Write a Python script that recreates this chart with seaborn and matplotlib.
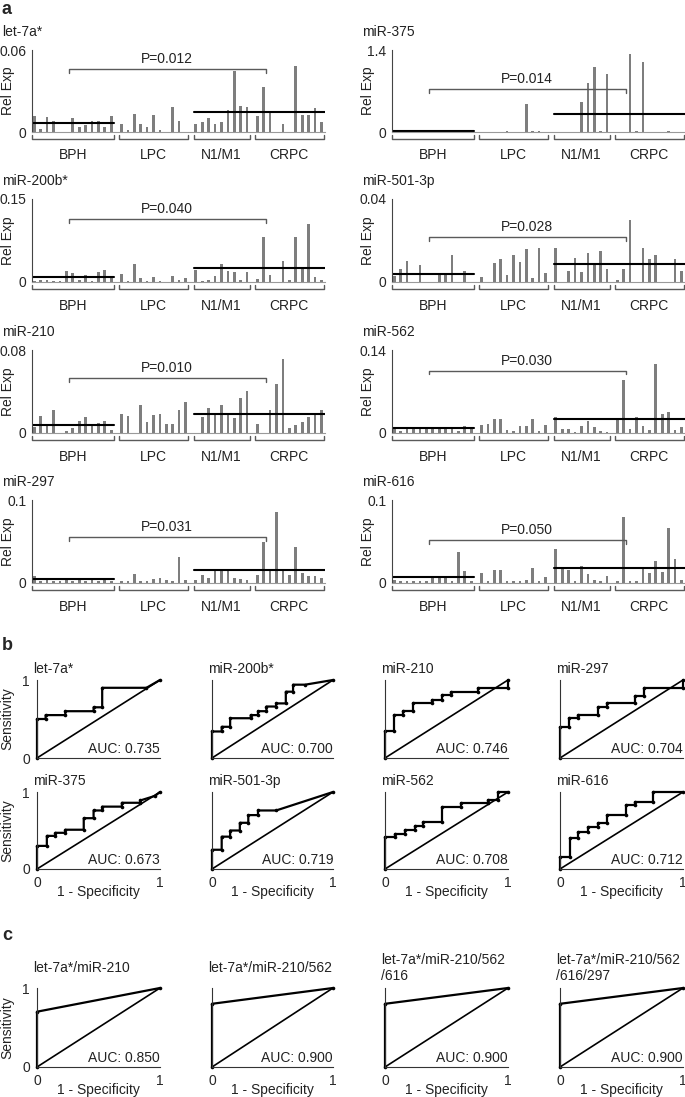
import matplotlib
matplotlib.use("Agg")
import matplotlib.pyplot as plt
import matplotlib.transforms as mtransforms
import numpy as np
import pandas as pd
import seaborn as sns

W, H = 685, 1097

group_names = ["BPH", "LPC", "N1/M1", "CRPC"]
group_sizes = [13, 11, 9, 11]

# panel a: relative expression per sample, groups in order BPH | LPC | N1/M1 | CRPC
let7a_exp = [0.0115, 0.0024, 0.011, 0.008, 0, 0, 0.010, 0.0036, 0.005, 0.0084, 0.0077, 0.004, 0.0115,
             0.006, 0.0017, 0.013, 0.0055, 0.004, 0.0125, 0.0017, 0, 0.018, 0.008, 0,
             0.0062, 0.0074, 0.010, 0.0055, 0.0074, 0.016, 0.045, 0.019, 0.018,
             0.0115, 0.0326, 0.015, 0, 0.0055, 0, 0.048, 0.0127, 0.0127, 0.0175, 0.0074]
mir375_exp = [0.02, 0.015, 0.02, 0.015, 0.02, 0.015, 0.02, 0.015, 0.02, 0.015, 0.02, 0.02, 0.02,
              0, 0.005, 0.004, 0.006, 0.01, 0.005, 0.005, 0.476, 0.02, 0.01, 0.004,
              0.006, 0.006, 0.005, 0, 0.515, 0.84, 1.11, 0.01, 0.99,
              0.005, 0, 1.33, 0.02, 1.2, 0, 0.005, 0.005, 0.01, 0.005, 0.005]
mir200b_exp = [0.002, 0.004, 0.003, 0.002, 0.002, 0.020, 0.016, 0.003, 0.012, 0.002, 0.018, 0.022, 0.010,
               0.015, 0.0024, 0.032, 0.007, 0.001, 0.009, 0.002, 0, 0.011, 0.004, 0.008,
               0.021, 0.002, 0.003, 0.011, 0.033, 0.020, 0.018, 0.004, 0.018,
               0.006, 0.081, 0.012, 0, 0.038, 0.003, 0.082, 0.024, 0.105, 0.009, 0.004]
mir501_exp = [0.003, 0.0065, 0.010, 0, 0.008, 0, 0, 0.004, 0.004, 0.013, 0, 0.0053, 0,
              0.0024, 0, 0.009, 0.0113, 0.0032, 0.013, 0.0094, 0.0157, 0.002, 0.0165, 0.0044,
              0.0165, 0, 0.0053, 0.0117, 0.0049, 0.0138, 0.0086, 0.015, 0.0065,
              0.0011, 0.0065, 0.030, 0, 0.0165, 0.0113, 0.013, 0, 0, 0.011, 0.0053]
mir210_exp = [0.0058, 0.016, 0.009, 0.022, 0, 0.002, 0.005, 0.012, 0.0155, 0.0074, 0.0097, 0.0116, 0.003,
              0.0187, 0.016, 0, 0.0268, 0.011, 0.017, 0.018, 0.009, 0.0084, 0.0226, 0.030,
              0, 0.015, 0.024, 0.018, 0.027, 0.018, 0.014, 0.034, 0.040,
              0.009, 0, 0.0226, 0.047, 0.071, 0.005, 0.008, 0.011, 0.0155, 0.017, 0.022]
mir562_exp = [0.0095, 0.004, 0.007, 0.007, 0.0095, 0.008, 0.007, 0.007, 0.006, 0.006, 0.003, 0.011, 0.008,
              0.013, 0.015, 0.024, 0.0235, 0.0056, 0.003, 0.0118, 0.0118, 0.0235, 0.003, 0.014,
              0.0274, 0.0067, 0.0067, 0.002, 0.0118, 0.0196, 0.0095, 0.003, 0.001,
              0.0224, 0.0896, 0.0067, 0.0269, 0.0118, 0.0056, 0.1165, 0.032, 0.0347, 0.0056, 0.0095]
mir297_exp = [0.008, 0.003, 0.004, 0.003, 0.003, 0.004, 0.003, 0.004, 0.003, 0.004, 0.003, 0.004, 0.003,
              0.002, 0.003, 0.0105, 0.002, 0.003, 0.005, 0.006, 0.004, 0.003, 0.031, 0.004,
              0.004, 0.010, 0.006, 0.014, 0.016, 0.015, 0.006, 0.005, 0.004,
              0.010, 0.049, 0.015, 0.085, 0.014, 0.010, 0.043, 0.012, 0.008, 0.009, 0.006]
mir616_exp = [0.004, 0.002, 0.002, 0.002, 0.002, 0.002, 0.006, 0.007, 0.007, 0.002, 0.037, 0.014, 0.002,
              0.0125, 0.003, 0.016, 0.016, 0.003, 0.002, 0.003, 0.004, 0.018, 0.002, 0.0077,
              0.041, 0.018, 0.016, 0.003, 0.021, 0.011, 0.004, 0.002, 0.0085,
              0.002, 0.079, 0.003, 0.002, 0.018, 0.0125, 0.027, 0.0138, 0.066, 0.029, 0.004]

# group averages drawn as black lines (BPH, and N1/M1 + CRPC together)
bph_means = {"let-7a*": 0.0067, "miR-375": 0.02, "miR-200b*": 0.0085, "miR-501-3p": 0.0039,
             "miR-210": 0.0074, "miR-562": 0.0084, "miR-297": 0.005, "miR-616": 0.0073}
met_means = {"let-7a*": 0.0146, "miR-375": 0.31, "miR-200b*": 0.0255, "miR-501-3p": 0.0089,
             "miR-210": 0.018, "miR-562": 0.0235, "miR-297": 0.0158, "miR-616": 0.0186}
y_max = {"let-7a*": 0.06, "miR-375": 1.4, "miR-200b*": 0.15, "miR-501-3p": 0.04,
         "miR-210": 0.08, "miR-562": 0.14, "miR-297": 0.1, "miR-616": 0.1}
y_max_label = {"let-7a*": "0.06", "miR-375": "1.4", "miR-200b*": "0.15", "miR-501-3p": "0.04",
               "miR-210": "0.08", "miR-562": "0.14", "miR-297": "0.1", "miR-616": "0.1"}
p_values = {"let-7a*": "P=0.012", "miR-375": "P=0.014", "miR-200b*": "P=0.040", "miR-501-3p": "P=0.028",
            "miR-210": "P=0.010", "miR-562": "P=0.030", "miR-297": "P=0.031", "miR-616": "P=0.050"}
expr = {"let-7a*": let7a_exp, "miR-375": mir375_exp, "miR-200b*": mir200b_exp, "miR-501-3p": mir501_exp,
        "miR-210": mir210_exp, "miR-562": mir562_exp, "miR-297": mir297_exp, "miR-616": mir616_exp}

# panel b: ROC curves (1 - specificity, sensitivity)
let7a_fpr = [0, 0, 0.07, 0.07, 0.23, 0.23, 0.46, 0.46, 0.53, 0.53, 0.89, 1]
let7a_tpr = [0, 0.5, 0.5, 0.55, 0.55, 0.6, 0.6, 0.65, 0.65, 0.9, 0.9, 1]
mir200b_fpr = [0, 0, 0.08, 0.08, 0.15, 0.15, 0.32, 0.32, 0.38, 0.38, 0.45, 0.45, 0.53, 0.53, 0.61, 0.61, 0.67, 0.67, 0.77, 1]
mir200b_tpr = [0, 0.34, 0.34, 0.40, 0.40, 0.51, 0.51, 0.55, 0.55, 0.60, 0.60, 0.66, 0.66, 0.70, 0.70, 0.85, 0.85, 0.94, 0.94, 1]
mir210_fpr = [0, 0, 0.076, 0.076, 0.15, 0.15, 0.23, 0.23, 0.38, 0.38, 0.46, 0.46, 0.54, 0.54, 0.76, 0.76, 1, 1]
mir210_tpr = [0, 0.35, 0.35, 0.55, 0.55, 0.60, 0.60, 0.70, 0.70, 0.75, 0.75, 0.81, 0.81, 0.85, 0.85, 0.90, 0.90, 1]
mir297_fpr = [0, 0, 0.076, 0.076, 0.15, 0.15, 0.305, 0.305, 0.38, 0.38, 0.61, 0.61, 0.68, 0.68, 1, 1]
mir297_tpr = [0, 0.40, 0.40, 0.51, 0.51, 0.55, 0.55, 0.65, 0.65, 0.70, 0.70, 0.80, 0.80, 0.90, 0.90, 1]
mir375_fpr = [0, 0, 0.08, 0.08, 0.15, 0.15, 0.23, 0.23, 0.38, 0.38, 0.46, 0.46, 0.53, 0.53, 0.69, 0.69, 0.84, 0.84, 0.96, 1]
mir375_tpr = [0, 0.30, 0.30, 0.43, 0.43, 0.47, 0.47, 0.51, 0.51, 0.66, 0.66, 0.76, 0.76, 0.81, 0.81, 0.86, 0.86, 0.89, 0.95, 1]
mir501_fpr = [0, 0, 0.08, 0.08, 0.15, 0.15, 0.23, 0.23, 0.30, 0.30, 0.38, 0.38, 0.53, 1]
mir501_tpr = [0, 0.25, 0.25, 0.42, 0.42, 0.50, 0.50, 0.60, 0.60, 0.70, 0.70, 0.76, 0.76, 1]
mir562_fpr = [0, 0, 0.08, 0.08, 0.16, 0.16, 0.24, 0.24, 0.31, 0.31, 0.46, 0.46, 0.62, 0.62, 0.84, 0.84, 0.92, 0.92, 1]
mir562_tpr = [0, 0.42, 0.42, 0.46, 0.46, 0.51, 0.51, 0.56, 0.56, 0.61, 0.61, 0.81, 0.81, 0.86, 0.86, 0.90, 0.90, 1, 1]
mir616_fpr = [0, 0, 0.08, 0.08, 0.15, 0.15, 0.23, 0.23, 0.31, 0.31, 0.38, 0.38, 0.54, 0.54, 0.61, 0.61, 0.76, 0.76, 1]
mir616_tpr = [0, 0.16, 0.16, 0.40, 0.40, 0.48, 0.48, 0.55, 0.55, 0.60, 0.60, 0.70, 0.70, 0.83, 0.83, 0.87, 0.87, 1, 1]
roc_b = [("let-7a*", let7a_fpr, let7a_tpr, "AUC: 0.735"),
         ("miR-200b*", mir200b_fpr, mir200b_tpr, "AUC: 0.700"),
         ("miR-210", mir210_fpr, mir210_tpr, "AUC: 0.746"),
         ("miR-297", mir297_fpr, mir297_tpr, "AUC: 0.704"),
         ("miR-375", mir375_fpr, mir375_tpr, "AUC: 0.673"),
         ("miR-501-3p", mir501_fpr, mir501_tpr, "AUC: 0.719"),
         ("miR-562", mir562_fpr, mir562_tpr, "AUC: 0.708"),
         ("miR-616", mir616_fpr, mir616_tpr, "AUC: 0.712")]

# panel c: combined classifiers
combo_names = ["let-7a*/miR-210", "let-7a*/miR-210/562", "let-7a*/miR-210/562\n/616", "let-7a*/miR-210/562\n/616/297"]
combo_fpr = [[0, 0, 1], [0, 0, 1], [0, 0, 1], [0, 0, 1]]
combo_tpr = [[0, 0.7, 1], [0, 0.8, 1], [0, 0.8, 1], [0, 0.8, 1]]
combo_auc = ["AUC: 0.850", "AUC: 0.900", "AUC: 0.900", "AUC: 0.900"]

FS = 10
BAR_GRAY = "#7e7e7e"
LINE_GRAY = "#5a5a5a"


def rect(left, top, right, bottom):
    return [left / W, 1 - bottom / H, (right - left) / W, (bottom - top) / H]


def ftext(fig, x, y, s, **kw):
    fig.text(x / W, 1 - y / H, s, fontsize=kw.pop("fontsize", FS), **kw)


def sample_positions(sizes, gap=0.6):
    pos = []
    start = 0.0
    for k, n in enumerate(sizes):
        pos.extend(start + np.arange(n))
        start += n + gap
    return np.array(pos)


def draw_expression(fig, name, left, top, right, bottom, bracket_y):
    ax = fig.add_axes(rect(left, top, right, bottom))
    pos = sample_positions(group_sizes)
    df = pd.DataFrame({"pos": pos, "val": expr[name]})
    sns.barplot(data=df, x="pos", y="val", native_scale=True, width=0.42, color=BAR_GRAY,
                saturation=1, errorbar=None, linewidth=0, ax=ax)
    xmin, xmax = -0.36, pos[-1] + 0.56
    ax.set_xlim(xmin, xmax)
    ax.set_ylim(0, y_max[name])
    ax.set_xticks([])
    ax.set_yticks([0, y_max[name]])
    ax.set_yticklabels(["0", y_max_label[name]])
    ax.set_xlabel("")
    ax.set_ylabel("")
    for s in ["top", "right"]:
        ax.spines[s].set_visible(False)
    ax.spines["left"].set_color("#444444")
    ax.spines["left"].set_linewidth(0.8)
    ax.spines["bottom"].set_color("#9a9a9a")
    ax.spines["bottom"].set_linewidth(0.8)
    ax.tick_params(axis="y", length=3, width=0.8, color="#444444", labelsize=FS, pad=1)

    trans = mtransforms.blended_transform_factory(ax.transData, ax.transAxes)
    # group brackets and labels under the axis
    idx = np.cumsum([0] + group_sizes)
    for k, gname in enumerate(group_names):
        g0 = pos[idx[k]] - 0.35 if k > 0 else xmin
        g1 = pos[idx[k + 1] - 1] + 0.4
        ax.plot([g0, g0, g1, g1], [-0.04, -0.085, -0.085, -0.04], color=LINE_GRAY, lw=1.0,
                transform=trans, clip_on=False)
        ax.text((pos[idx[k]] + pos[idx[k + 1] - 1]) / 2, -0.2, gname, ha="center", va="top",
                fontsize=FS, transform=trans, color="#222222")

    # mean lines
    ax.plot([xmin, pos[idx[1] - 1] + 0.4], [bph_means[name]] * 2, color="black", lw=1.5)
    ax.plot([pos[idx[2]] - 0.3, xmax], [met_means[name]] * 2, color="black", lw=1.5)

    # significance bracket
    bx0, bx1 = 5.4, 36.1
    ax.plot([bx0, bx0, bx1, bx1], [bracket_y - 0.045, bracket_y, bracket_y, bracket_y - 0.045],
            color=LINE_GRAY, lw=1.0, transform=trans, clip_on=False)
    ax.text((bx0 + bx1) / 2, bracket_y + 0.035, p_values[name], ha="center", va="bottom",
            fontsize=FS, transform=trans, color="#222222")

    ftext(fig, left - 30, top - 18, name, ha="left", va="center", color="#222222")
    ftext(fig, left - 24, (top + bottom) / 2, "Rel Exp", rotation=90, ha="center", va="center",
          color="#222222")
    return ax


def draw_roc(fig, fpr, tpr, auc, left, top, right, bottom, ylab, xlab):
    ax = fig.add_axes(rect(left, top, right, bottom))
    ax.plot([0, 1], [0, 1], color="black", lw=1.2, clip_on=False)
    sns.lineplot(x=fpr, y=tpr, sort=False, estimator=None, color="black", lw=1.6,
                 marker="o", markersize=2.6, markeredgewidth=0, ax=ax, clip_on=False)
    ax.set_xlim(0, 1)
    ax.set_ylim(0, 1)
    ticks = [0, 0.25, 0.5, 0.75, 1]
    ax.set_xticks(ticks)
    ax.set_yticks(ticks)
    ax.set_xticklabels(["0", "", "", "", "1"] if xlab else [""] * 5)
    ax.set_yticklabels(["0", "", "", "", "1"] if ylab else [""] * 5)
    ax.set_xlabel("")
    ax.set_ylabel("")
    for s in ["top", "right"]:
        ax.spines[s].set_visible(False)
    for s in ["left", "bottom"]:
        ax.spines[s].set_color("#333333")
        ax.spines[s].set_linewidth(0.8)
    ax.tick_params(length=3, width=0.8, color="#333333", labelsize=FS, pad=2)
    ax.text(1.0, 0.02, auc, ha="right", va="bottom", fontsize=FS, transform=ax.transAxes,
            color="#222222")
    if xlab:
        ftext(fig, (left + right) / 2, bottom + 23, "1 - Specificity", ha="center", va="center",
              color="#222222")
    if ylab:
        ftext(fig, left - 30, (top + bottom) / 2, "Sensitivity", rotation=90, ha="center",
              va="center", color="#222222")
    return ax


def main() -> None:
    sns.set_style("white")
    plt.rcParams["font.family"] = ["Liberation Sans", "DejaVu Sans"]
    fig = plt.figure(figsize=(W / 100, H / 100), dpi=100)

    # panel a
    tops = [50, 199, 350, 500]
    bottoms = [132, 282, 433, 583]
    left_col = ["let-7a*", "miR-200b*", "miR-210", "miR-297"]
    right_col = ["miR-375", "miR-501-3p", "miR-562", "miR-616"]
    left_br = [0.77, 0.76, 0.665, 0.555]
    right_br = [0.52, 0.54, 0.75, 0.52]
    for r in range(4):
        draw_expression(fig, left_col[r], 32, tops[r], 325, bottoms[r], left_br[r])
        draw_expression(fig, right_col[r], 392, tops[r], 685, bottoms[r], right_br[r])

    # panel b
    cols = [(37, 160), (212, 333), (385, 508), (560, 683)]
    rows = [(680, 758), (792, 869)]
    for i, (name, fpr, tpr, auc) in enumerate(roc_b):
        r, c = divmod(i, 4)
        l, rr = cols[c]
        t, b = rows[r]
        draw_roc(fig, fpr, tpr, auc, l, t, rr, b, ylab=(c == 0), xlab=(r == 1))
        ftext(fig, l - 4, t - 11, name, ha="left", va="center", color="#222222")

    # panel c
    for c in range(4):
        l, rr = cols[c]
        draw_roc(fig, combo_fpr[c], combo_tpr[c], combo_auc[c], l, 988, rr, 1067,
                 ylab=(c == 0), xlab=True)
        ftext(fig, l - 4, 968, combo_names[c], ha="left", va="center", color="#222222",
              linespacing=1.1)

    ftext(fig, 2, 1, "a", fontsize=13, fontweight="bold", ha="left", va="top")
    ftext(fig, 2, 645, "b", fontsize=13, fontweight="bold", ha="left", va="center")
    ftext(fig, 2, 935, "c", fontsize=13, fontweight="bold", ha="left", va="center")

    fig.savefig("out.png", dpi=100)
    plt.close(fig)


if __name__ == "__main__":
    main()
